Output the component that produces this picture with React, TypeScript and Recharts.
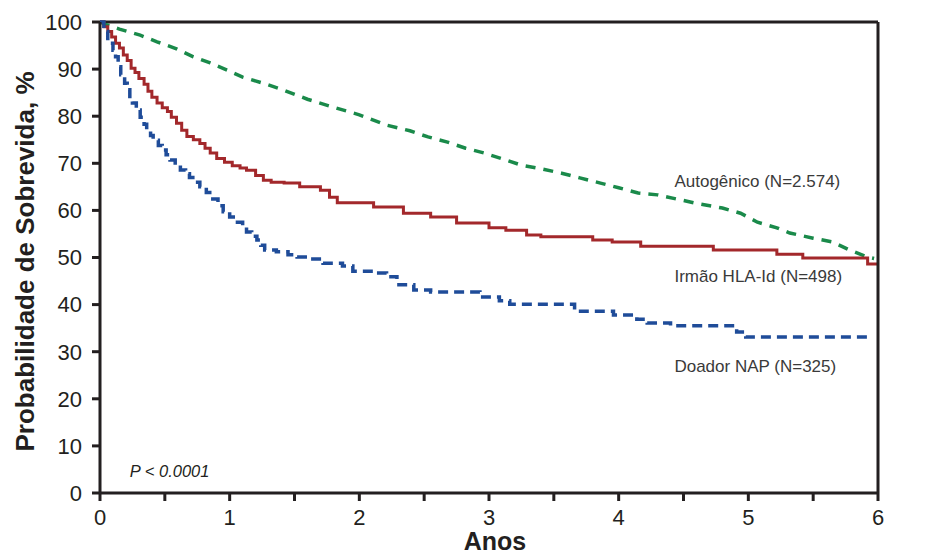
import React from 'react'
import { LineChart, Line, XAxis, YAxis, ReferenceLine, ReferenceDot } from 'recharts'

// anos de seguimento / probabilidade de sobrevida (%)
const autoYears = [0, 0.04, 0.15, 0.31, 0.44, 0.59, 0.72, 0.85, 0.98, 1.1, 1.26, 1.41, 1.6, 1.8, 2.0, 2.21, 2.39, 2.53, 2.68, 2.82, 2.96, 3.11, 3.25, 3.41, 3.56, 3.7, 3.86, 4.0, 4.15, 4.3, 4.45, 4.6, 4.8, 4.94, 5.07, 5.22, 5.32, 5.5, 5.65, 5.78, 5.92, 5.97]
const autoSurv = [100, 99.5, 98.5, 97.2, 95.8, 94.3, 92.6, 91.3, 89.8, 88.3, 87, 85.6, 83.6, 81.9, 80.3, 78.1, 76.9, 75.6, 74.5, 73.2, 72.2, 70.9, 69.6, 68.8, 67.9, 66.9, 65.8, 64.8, 63.7, 63.3, 62.4, 61.5, 60.5, 59.4, 57.5, 56.3, 55.2, 54.1, 53.3, 51.6, 50.1, 49.8]

const irmaoYears = [0, 0.03, 0.06, 0.09, 0.12, 0.15, 0.18, 0.21, 0.24, 0.27, 0.3, 0.34, 0.37, 0.4, 0.44, 0.48, 0.52, 0.55, 0.59, 0.63, 0.67, 0.72, 0.77, 0.81, 0.85, 0.9, 0.96, 1.02, 1.08, 1.13, 1.2, 1.26, 1.32, 1.42, 1.54, 1.7, 1.77, 1.83, 2.11, 2.34, 2.55, 2.75, 3.0, 3.13, 3.29, 3.4, 3.8, 3.95, 4.17, 4.73, 5.22, 5.42, 5.92, 6.0]
const irmaoSurv = [100, 99, 98, 96.8, 95.5, 94.5, 93, 91.8, 90.2, 89.3, 88, 86.8, 85.3, 84, 82.8, 81.8, 81, 79.8, 78.5, 77, 75.7, 75, 74.2, 73.2, 72.2, 71, 70.2, 69.5, 69, 68.5, 67.4, 66.4, 66, 65.8, 65, 64.3, 62.8, 61.6, 60.7, 59.4, 58.6, 57.3, 56.3, 55.8, 54.8, 54.4, 53.7, 53.3, 52.4, 51.6, 50.7, 49.9, 48.6, 48.6]

const doadorYears = [0, 0.03, 0.06, 0.08, 0.1, 0.12, 0.14, 0.16, 0.19, 0.21, 0.23, 0.25, 0.28, 0.31, 0.34, 0.36, 0.39, 0.41, 0.45, 0.48, 0.51, 0.54, 0.58, 0.62, 0.66, 0.69, 0.73, 0.77, 0.82, 0.87, 0.91, 0.95, 1.0, 1.06, 1.1, 1.13, 1.17, 1.21, 1.24, 1.27, 1.36, 1.45, 1.52, 1.62, 1.72, 1.87, 1.95, 2.11, 2.21, 2.29, 2.42, 2.55, 2.93, 3.08, 3.16, 3.66, 3.96, 4.14, 4.22, 4.4, 4.91, 4.98, 5.96]
const doadorSurv = [100, 98, 96.5, 95.5, 94, 92.6, 90.5, 88.8, 87, 85.6, 84.2, 82.8, 81.3, 79.8, 78.3, 77.1, 75.9, 74.9, 73.8, 72.8, 71.8, 70.7, 69.6, 68.6, 67.8, 67, 66, 65, 63.8, 62.4, 61, 59.7, 58.6, 57.5, 56.4, 55.4, 54.5, 53.7, 52.6, 51.6, 51.2, 50.6, 50.1, 49.7, 48.8, 48.2, 47.1, 46.7, 45.9, 44.2, 43.1, 42.7, 41.6, 40.8, 40.1, 38.6, 37.8, 36.9, 36.1, 35.5, 34.2, 33.1, 33.1]

const xTicks = [0, 0.5, 1, 1.5, 2, 2.5, 3, 3.5, 4, 4.5, 5, 5.5, 6]
const yTicks = [0, 10, 20, 30, 40, 50, 60, 70, 80, 90, 100]

const toData = (years: number[], surv: number[]) => years.map((t, i) => ({ t, v: surv[i] }))

const FONT = '"Liberation Sans", Arial, sans-serif'
const INK = '#231f20'

const YTitle = ({ viewBox }: any) => (
  <text
    x={viewBox.x + 25}
    y={viewBox.y + viewBox.height / 2 + 4}
    transform={`rotate(-90, ${viewBox.x + 25}, ${viewBox.y + viewBox.height / 2 + 4})`}
    textAnchor="middle"
    dominantBaseline="central"
    fontFamily={FONT}
    fontWeight="bold"
    fontSize={26}
    fill={INK}
  >
    Probabilidade de Sobrevida, %
  </text>
)

const XTitle = ({ viewBox }: any) => (
  <text
    x={viewBox.x + viewBox.width / 2 + 6}
    y={viewBox.y + 57}
    textAnchor="middle"
    fontFamily={FONT}
    fontWeight="bold"
    fontSize={25}
    fill={INK}
  >
    Anos
  </text>
)

const seriesLabel = (value: string) => ({
  value,
  position: 'right' as const,
  offset: 0,
  fill: '#3a3a3a',
  fontSize: 17,
  fontFamily: FONT
})

const App = () => {
  const axisStyle = { stroke: INK, strokeWidth: 3 }
  const tickStyle = { fill: INK, fontSize: 22, fontFamily: FONT }

  return (
    <div style={{ position: 'absolute', left: 0, top: 0, background: '#fff' }}>
      <LineChart width={934} height={558} margin={{ top: 22, right: 0, bottom: 0, left: 0 }}>
        <XAxis
          type="number"
          dataKey="t"
          domain={[0, 6]}
          ticks={xTicks}
          tickFormatter={(v: number) => (Number.isInteger(v) ? String(v) : '')}
          height={65}
          tickSize={8}
          tickMargin={8}
          axisLine={axisStyle}
          tickLine={axisStyle}
          tick={tickStyle}
          label={<XTitle />}
        />
        <YAxis
          yAxisId="left"
          domain={[0, 100]}
          ticks={yTicks}
          width={100}
          tickSize={8}
          tickMargin={10}
          axisLine={axisStyle}
          tickLine={axisStyle}
          tick={tickStyle}
          label={<YTitle />}
        />
        <YAxis
          yAxisId="right"
          orientation="right"
          domain={[0, 100]}
          ticks={yTicks}
          width={56}
          tickSize={8}
          tickMargin={10}
          axisLine={axisStyle}
          tickLine={axisStyle}
          tick={{ ...tickStyle, textAnchor: 'start' }}
        />
        <ReferenceLine yAxisId="left" y={100} stroke={INK} strokeWidth={3} />

        <Line
          yAxisId="left"
          data={toData(autoYears, autoSurv)}
          dataKey="v"
          type="linear"
          stroke="#1a8a4a"
          strokeWidth={3.5}
          strokeDasharray="10 8"
          dot={false}
          isAnimationActive={false}
        />
        <Line
          yAxisId="left"
          data={toData(irmaoYears, irmaoSurv)}
          dataKey="v"
          type="stepAfter"
          stroke="#a3282b"
          strokeWidth={3}
          dot={false}
          isAnimationActive={false}
        />
        <Line
          yAxisId="left"
          data={toData(doadorYears, doadorSurv)}
          dataKey="v"
          type="stepAfter"
          stroke="#1f4c99"
          strokeWidth={3.5}
          strokeDasharray="10 6"
          dot={false}
          isAnimationActive={false}
        />

        <ReferenceDot yAxisId="left" x={4.43} y={66.2} r={0} label={seriesLabel('Autogênico (N=2.574)')} />
        <ReferenceDot yAxisId="left" x={4.43} y={46.1} r={0} label={seriesLabel('Irmão HLA-Id (N=498)')} />
        <ReferenceDot yAxisId="left" x={4.43} y={27.0} r={0} label={seriesLabel('Doador NAP (N=325)')} />
        <ReferenceDot
          yAxisId="left"
          x={0.23}
          y={4.6}
          r={0}
          label={{ ...seriesLabel('P < 0.0001'), fontSize: 16.5, fontStyle: 'italic', fill: INK }}
        />
      </LineChart>
    </div>
  )
}

export default App
